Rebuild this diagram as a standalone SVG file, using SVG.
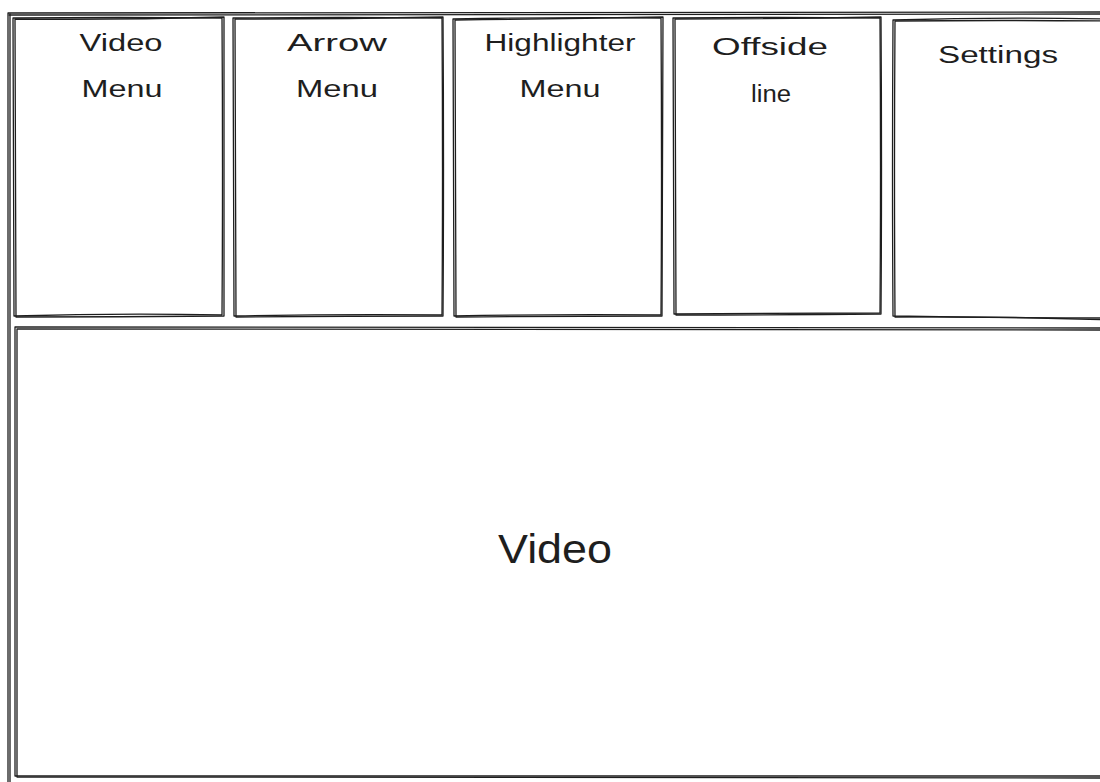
<svg xmlns="http://www.w3.org/2000/svg" width="1100" height="782" viewBox="0 0 1100 782">
<style>
.s{fill:none;stroke:#1e1e1e;stroke-width:1.3;stroke-linecap:round;stroke-linejoin:round}
.t{font-family:"Liberation Sans","DejaVu Sans",sans-serif;fill:#1e1e1e;text-anchor:middle}
.sm{font-size:23px}
.lg{font-size:41px}
</style>
<rect width="1100" height="782" fill="#ffffff"/>
<g id="frame">
<path class="s" d="M8 13 Q550 11 1110 12 M8 13 Q7 400 8 790"/>
<path class="s" d="M9 15 Q550 14 1110 14 M10 14 Q11 400 10 790"/>
</g>
<g id="video-menu">
<path class="s" d="M13 18 Q120 17 222 18 Q223 170 222 315 Q120 313 14 316 Q13 170 13 18"/>
<path class="s" d="M15 19 Q120 20 224 17 Q224 170 224 316 Q120 317 16 317 Q15 170 15 19"/>
<text class="t sm" x="121" y="51" textLength="83" lengthAdjust="spacingAndGlyphs">Video</text>
<text class="t sm" x="122" y="97" textLength="81" lengthAdjust="spacingAndGlyphs">Menu</text>
</g>
<g id="arrow-menu">
<path class="s" d="M233 18 Q340 17 442 18 Q443 170 442 315 Q340 314 234 316 Q233 170 233 18"/>
<path class="s" d="M235 19 Q340 19 443 17 Q444 170 443 316 Q340 316 236 317 Q235 170 235 19"/>
<text class="t sm" x="337" y="51" textLength="100" lengthAdjust="spacingAndGlyphs">Arrow</text>
<text class="t sm" x="337" y="97" textLength="82" lengthAdjust="spacingAndGlyphs">Menu</text>
</g>
<g id="highlighter-menu">
<path class="s" d="M453 19 Q560 17 661 18 Q662 170 661 315 Q560 314 454 316 Q453 170 453 19"/>
<path class="s" d="M455 20 Q560 19 663 17 Q663 170 662 316 Q560 316 456 317 Q455 170 455 20"/>
<text class="t sm" x="560" y="51" textLength="151" lengthAdjust="spacingAndGlyphs">Highlighter</text>
<text class="t sm" x="560" y="97" textLength="81" lengthAdjust="spacingAndGlyphs">Menu</text>
</g>
<g id="offside-line">
<path class="s" d="M673 18 Q780 17 880 18 Q881 170 880 313 Q780 313 674 314 Q673 170 673 18"/>
<path class="s" d="M675 19 Q780 19 881 17 Q882 170 881 314 Q780 315 676 315 Q675 170 675 19"/>
<text class="t sm" x="770" y="55" textLength="116" lengthAdjust="spacingAndGlyphs">Offside</text>
<text class="t sm" x="771" y="102" textLength="40" lengthAdjust="spacingAndGlyphs">line</text>
</g>
<g id="settings">
<path class="s" d="M893 20 Q1000 17 1110 19 M893 20 Q892 170 893 316 Q1000 318 1110 318"/>
<path class="s" d="M895 21 Q1000 20 1110 21 M895 21 Q894 170 895 317 Q1000 316 1110 320"/>
<text class="t sm" x="998" y="63" textLength="120" lengthAdjust="spacingAndGlyphs">Settings</text>
</g>
<g id="video">
<path class="s" d="M15 327 Q550 326 1110 328 M15 327 Q14 550 15 776 Q550 778 1110 776"/>
<path class="s" d="M17 329 Q550 328 1110 330 M17 329 Q16 550 17 777 Q550 776 1110 778"/>
<text class="t lg" x="555" y="563" textLength="114" lengthAdjust="spacingAndGlyphs">Video</text>
</g>
<g id="connectors"></g>
</svg>
